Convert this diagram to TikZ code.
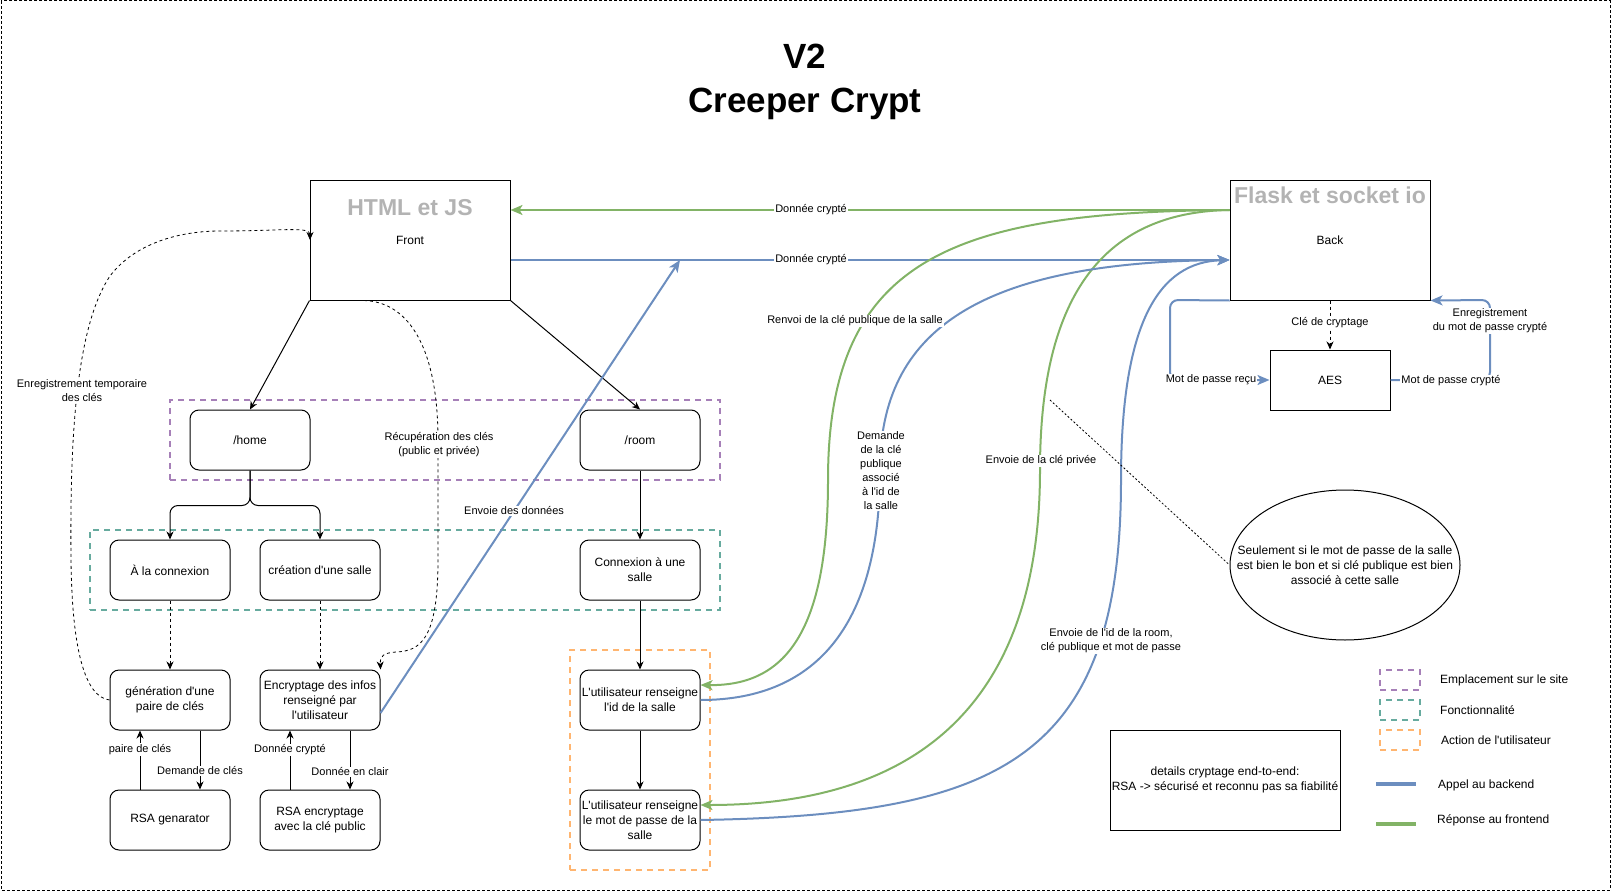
\documentclass[tikz,border=0pt]{standalone}
\usepackage{fontspec}
\setmainfont{Liberation Sans}[Ligatures=TeXOff]
\usetikzlibrary{arrows.meta,shapes.geometric}
\definecolor{cblue}{HTML}{6C8EBF}
\definecolor{cgreen}{HTML}{82B366}
\definecolor{cpurple}{HTML}{A680B8}
\definecolor{cteal}{HTML}{67AB9F}
\definecolor{corange}{HTML}{FFB570}
\definecolor{cgray}{HTML}{B3B3B3}
\begin{document}
\begin{tikzpicture}[x=1pt,y=-1pt,
 box/.style={draw, line width=1pt, rounded corners=9pt, minimum width=120pt, minimum height=60pt, inner sep=1pt, align=center, font=\fontsize{12}{15}\selectfont},
 sq/.style={draw, line width=1pt, minimum width=120pt, minimum height=60pt, inner sep=1pt, align=center, font=\fontsize{12}{15}\selectfont},
 lbl/.style={fill=white, inner sep=1pt, align=center, font=\fontsize{11}{14}\selectfont},
 txt/.style={inner sep=0pt, align=center, font=\fontsize{12}{15}\selectfont},
 hdr/.style={inner sep=0pt, text=cgray, font=\fontsize{23}{28}\selectfont\bfseries},
 grp/.style={line width=2pt, dash pattern=on 6pt off 5pt, inner sep=0pt},
 conn/.style={line width=1pt, -{Stealth[length=8pt,width=7pt,inset=2.5pt]}},
 dconn/.style={conn, dash pattern=on 3pt off 3pt},
 bconn/.style={draw=cblue, line width=2pt, -{Stealth[length=12pt,width=10pt,inset=3pt]}},
 gconn/.style={draw=cgreen, line width=2pt, -{Stealth[length=12pt,width=10pt,inset=3pt]}}
]
\useasboundingbox (0,0) rectangle (1614,891);
\draw[line width=1pt, dash pattern=on 3pt off 2pt] (1,1) rectangle (1610,890);

% title
\node[anchor=base, inner sep=0pt, font=\fontsize{35}{44}\selectfont\bfseries] (tv) at (805,68) {V2};
\node[anchor=base, inner sep=0pt, font=\fontsize{35}{44}\selectfont\bfseries] (tc) at (805,112) {Creeper Crypt};

% groups
\node[grp, draw=cpurple, minimum width=550pt, minimum height=80pt] (gpurple) at (445,440) {};
\node[grp, draw=cteal, minimum width=630pt, minimum height=80pt] (gteal) at (405,570) {};
\node[grp, draw=corange, minimum width=140pt, minimum height=220pt] (gorange) at (640,760) {};

% main boxes
\node[sq, minimum width=200pt, minimum height=120pt] (front) at (410,240) {Front};
\node[hdr] (fronth) at (410,208) {HTML et JS};
\node[sq, minimum width=200pt, minimum height=120pt] (back) at (1330,240) {Back};
\node[hdr] (backh) at (1330,195) {Flask et socket io};
\node[sq] (aes) at (1330,380) {AES};

\node[box] (home) at (250,440) {/home};
\node[box] (room) at (640,440) {/room};
\node[box] (alac) at (170,570) {À la connexion};
\node[box] (creat) at (320,570) {création d'une salle};
\node[box] (roomc) at (640,570) {Connexion à une\\salle};
\node[box] (gen) at (170,700) {génération d'une\\paire de clés};
\node[box] (enc) at (320,700) {Encryptage des infos\\renseigné par\\l'utilisateur};
\node[box] (rsag) at (170,820) {RSA genarator};
\node[box] (rsae) at (320,820) {RSA encryptage\\avec la clé public};
\node[box] (uid) at (640,700) {L'utilisateur renseigne\\l'id de la salle};
\node[box] (umdp) at (640,820) {L'utilisateur renseigne\\le mot de passe de la\\salle};

\node[draw, line width=1pt, ellipse, minimum width=230pt, minimum height=150pt, inner sep=0pt] (ell) at (1345,565) {};
\node[txt] (ellt) at (1345,565) {Seulement si le mot de passe de la salle\\est bien le bon et si clé publique est bien\\associé à cette salle};
\node[sq, minimum width=230pt, minimum height=100pt] (det) at (1225,780) {details cryptage end-to-end:\\RSA -> sécurisé et reconnu pas sa fiabilité};

% legend
\node[grp, draw=cpurple, minimum width=40pt, minimum height=20pt] (lp) at (1400,680) {};
\node[grp, draw=cteal, minimum width=40pt, minimum height=20pt] (lt) at (1400,710) {};
\node[grp, draw=corange, minimum width=40pt, minimum height=20pt] (lo) at (1400,740) {};
\node[txt, anchor=west] (lpt) at (1440,680) {Emplacement sur le site};
\node[txt, anchor=west] (ltt) at (1440,710) {Fonctionnalité};
\node[txt, anchor=west] (lot) at (1441,740) {Action de l'utilisateur};
\coordinate (lb1) at (1376,784); \coordinate (lb2) at (1416,784);
\coordinate (lg1) at (1376,824); \coordinate (lg2) at (1416,824);
\draw[cblue, line width=4pt] (lb1) -- (lb2);
\draw[cgreen, line width=4pt] (lg1) -- (lg2);
\node[txt, anchor=west] (lbt) at (1438,785) {Appel au backend};
\node[txt, anchor=west] (lgt) at (1437,820) {Réponse au frontend};

% black connectors
\draw[conn] (front.south west) -- (home.north);
\draw[conn] (front.south east) -- (room.north);
\draw[conn, rounded corners=8pt] (home.south) -- ++(0,35) -| (alac.north);
\draw[conn, rounded corners=8pt] (home.south) -- ++(0,35) -| (creat.north);
\draw[conn] (room.south) -- (roomc.north);
\draw[conn] (roomc.south) -- (uid.north);
\draw[conn] (uid.south) -- (umdp.north);
\draw[dconn] (alac.south) -- (gen.north);
\draw[dconn] (creat.south) -- (enc.north);
\draw[conn] ([shift={(30,0)}]gen.south) -- node[lbl, pos=0.68] {Demande de clés} ([shift={(30,0)}]rsag.north);
\draw[conn] ([shift={(-30,0)}]rsag.north) -- node[lbl, pos=0.68] {paire de clés} ([shift={(-30,0)}]gen.south);
\draw[conn] ([shift={(30,0)}]enc.south) -- node[lbl, pos=0.7] {Donnée en clair} ([shift={(30,0)}]rsae.north);
\draw[conn] ([shift={(-30,0)}]rsae.north) -- node[lbl, pos=0.67] {Donnée crypté} ([shift={(-30,0)}]enc.south);

% dashed curves on the left
\draw[dconn, line width=0.8pt] (gen.west) .. controls (85,697) and (72,650) .. (71,560)
   .. controls (70,450) and (74,330) .. (110,276)
   .. controls (135,243) and (180,231) .. (220,231)
   .. controls (285,231) and (310,226) .. (310,240);
\node[lbl] (lenr) at (82,391) {Enregistrement temporaire\\des clés};
\draw[dconn, line width=0.8pt] ([shift={(-46,0)}]front.south) .. controls (410,302) and (438,350) .. (438,440)
   -- (438,560) .. controls (438,640) and (420,651) .. (396,652)
   .. controls (383,653) and (380,656) .. (enc.north east);
\node[lbl] (lrec) at (439,445) {Récupération des clés\\(public et privée)};

% front <-> back
\coordinate (edtip) at (680,260);
\draw[bconn] ([shift={(0,20)}]front.east) -- node[lbl, pos=0.418] {Donnée crypté} ([shift={(0,20)}]back.west);
\draw[gconn] ([shift={(0,-30)}]back.west) -- node[lbl, pos=0.582] {Donnée crypté} ([shift={(0,-30)}]front.east);
\draw[bconn] ([shift={(0,13)}]enc.east) -- node[lbl, pos=0.446] {Envoie des données} (edtip);

% long curves
\draw[gconn] ([shift={(0,-30)}]back.west) .. controls (950,212) and (828,260) .. (828,480)
   .. controls (828,640) and (780,686) .. ([shift={(0,-15)}]uid.east);
\draw[gconn] ([shift={(0,-30)}]back.west) .. controls (1100,212) and (1040,300) .. (1040,470)
   .. controls (1040,760) and (850,805) .. ([shift={(0,-15)}]umdp.east);
\draw[bconn] (uid.east) .. controls (820,700) and (880,620) .. (880,470)
   .. controls (880,330) and (980,262) .. ([shift={(0,20)}]back.west);
\draw[bconn] (umdp.east) .. controls (1000,815) and (1121,760) .. (1121,480)
   .. controls (1121,320) and (1160,262) .. ([shift={(0,20)}]back.west);
\node[lbl] (lrenv) at (855,321) {Renvoi de la clé publique de la salle};
\node[lbl, fill=white] (ldem) at (881,471) {Demande\\de la clé\\publique\\associé\\à l'id de\\la salle};
\node[lbl] (lpriv) at (1041,461) {Envoie de la clé privée};
\node[lbl] (lenv) at (1111,641) {Envoie de l'id de la room,\\clé publique et mot de passe};

% annotation
\coordinate (annot) at (1050,400);
\draw[line width=0.8pt, dash pattern=on 2pt off 2pt] (annot) -- (ell.west);

% back <-> aes
\draw[bconn, rounded corners=8pt] (back.south west) -- (1170,300) -- (1170,380) -- (aes.west);
\node[lbl] (lrecu) at (1211,380) {Mot de passe reçu};
\draw[bconn, rounded corners=8pt] (aes.east) -- (1490,380) -- (1490,300) -- (back.south east);
\node[lbl] (lcry) at (1451,381) {Mot de passe crypté};
\node[lbl] (lsave) at (1490,321) {Enregistrement\\du mot de passe crypté};
\draw[dconn] (back.south) -- node[lbl, pos=0.46] {Clé de cryptage} (aes.north);
\end{tikzpicture}
\end{document}
